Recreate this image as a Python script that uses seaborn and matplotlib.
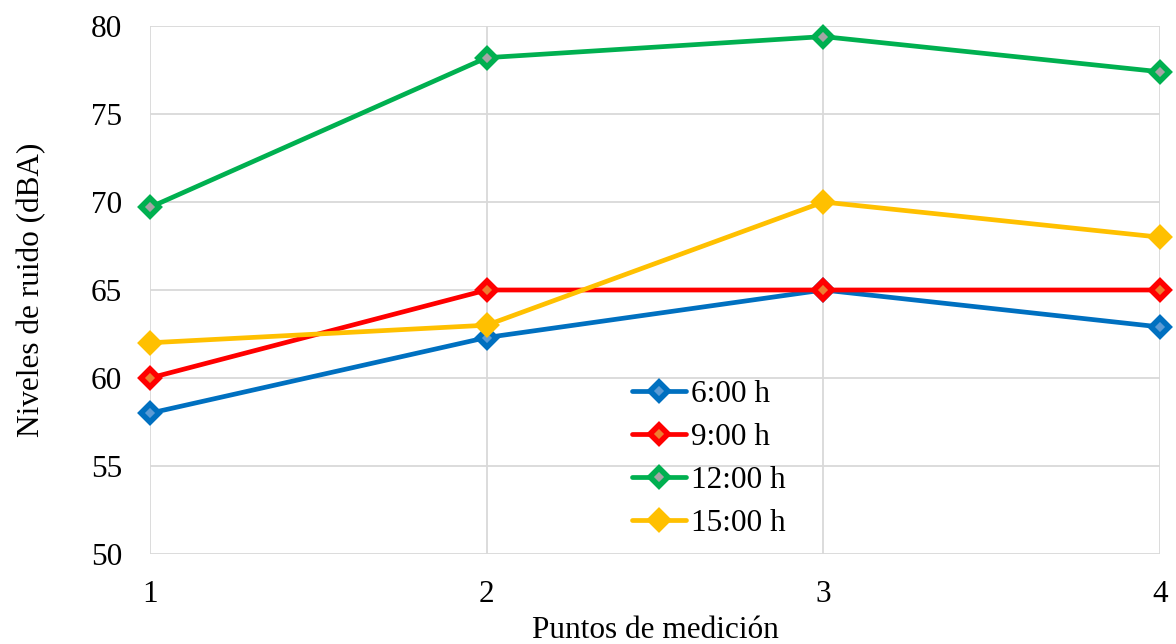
import matplotlib
matplotlib.use("Agg")
import matplotlib.pyplot as plt
import seaborn as sns
import pandas as pd

puntos = [1, 2, 3, 4]
h0600 = [58.0, 62.3, 65.0, 62.9]
h0900 = [60.0, 65.0, 65.0, 65.0]
h1200 = [69.7, 78.2, 79.4, 77.4]
h1500 = [62.0, 63.0, 70.0, 68.0]
series_labels = ["6:00 h", "9:00 h", "12:00 h", "15:00 h"]

line_colors = ["#0070C0", "#FF0000", "#00B050", "#FFC000"]
face_colors = ["#5B9BD5", "#ED7D31", "#A5A5A5", "#FFC000"]

sns.set_style("white")
plt.rcParams["font.family"] = ["Liberation Serif", "DejaVu Serif"]
plt.rcParams["text.color"] = "black"
plt.rcParams["axes.labelcolor"] = "black"

FS = 22.5

fig = plt.figure(figsize=(11.76, 6.44), dpi=100)
ax = fig.add_axes([0.1276, 0.1398, 0.8588, 0.8198])

for vals, lab, lc, fc in zip([h0600, h0900, h1200, h1500], series_labels, line_colors, face_colors):
    df = pd.DataFrame({"Punto": puntos, "Nivel": vals})
    sns.lineplot(data=df, x="Punto", y="Nivel", ax=ax, color=lc, linewidth=3.4,
                 marker="D", markersize=9.5, markerfacecolor=fc, markeredgecolor=lc,
                 markeredgewidth=4, label=lab, zorder=3, clip_on=False)

ax.set_xlim(1, 4)
ax.set_ylim(50, 80)
ax.set_xticks(puntos)
ax.set_yticks(range(50, 81, 5))
ax.grid(True, color="#D9D9D9", linewidth=1.3)
ax.set_axisbelow(True)
for s in ax.spines.values():
    s.set_visible(False)
ax.tick_params(axis="both", labelsize=FS, length=0, colors="black")
ax.tick_params(axis="x", pad=19)
ax.tick_params(axis="y", pad=20)
ax.set_xlabel("Puntos de medición", fontsize=FS, labelpad=5)
ax.set_ylabel("Niveles de ruido (dBA)", fontsize=FS, labelpad=32)

leg = ax.legend(loc="center left", bbox_to_anchor=(0.477, 0.18), frameon=False, fontsize=FS,
                handlelength=1.75, handletextpad=0.15, labelspacing=0.45,
                borderpad=0, borderaxespad=0)

fig.savefig("out.png", dpi=100)
